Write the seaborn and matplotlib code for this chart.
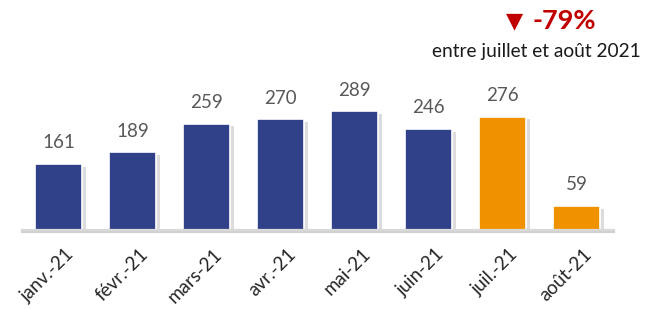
import matplotlib
matplotlib.use("Agg")
import matplotlib.pyplot as plt
import matplotlib.patheffects as pe
import seaborn as sns
import pandas as pd

# Data
months = ["janv.-21", "févr.-21", "mars-21", "avr.-21", "mai-21", "juin-21", "juil.-21", "août-21"]
values = [161, 189, 259, 270, 289, 246, 276, 59]
bar_colors = ["#314189"] * 6 + ["#F09100"] * 2
change_text = "-79%"
change_caption = "entre juillet et août 2021"

sns.set_theme(style="white")
plt.rcParams["font.family"] = ["Lato", "DejaVu Sans"]

df = pd.DataFrame({"month": months, "value": values})

fig = plt.figure(figsize=(6.49, 3.09), dpi=100)
ax = fig.add_axes([21.5 / 649, 79 / 309, 592 / 649, 230 / 309])

sns.barplot(data=df, x="month", y="value", hue="month", palette=bar_colors,
            saturation=1, width=0.64, legend=False, ax=ax,
            edgecolor="white", linewidth=1.2)

shadow = [pe.SimplePatchShadow(offset=(3, -2), shadow_rgbFace="#8c8c8c", alpha=0.3), pe.Normal()]
for p in ax.patches:
    p.set_path_effects(shadow)

ax.set_ylim(0, 560)
ax.set_xlim(-0.5, 7.5)

for i, v in enumerate(values):
    ax.annotate(str(v), (i, v), xytext=(0, 9), textcoords="offset points",
                ha="center", va="bottom", fontsize=13.5, color="#595959")

ax.set_yticks([])
ax.set_xlabel("")
ax.set_ylabel("")
for s in ["top", "right", "left"]:
    ax.spines[s].set_visible(False)
ax.spines["bottom"].set_color("#d9d9d9")
ax.spines["bottom"].set_linewidth(1.6)
ax.spines["bottom"].set_path_effects([pe.SimpleLineShadow(offset=(0, -1.5), alpha=0.2), pe.Normal()])

ax.tick_params(axis="x", length=0, pad=11)
ax.set_xticks(range(len(months)))
ax.set_xticklabels(months, rotation=45, ha="right", rotation_mode="anchor",
                   fontsize=13.5, color="#262626")
for lbl in ax.get_xticklabels():
    lbl.set_transform(lbl.get_transform() + matplotlib.transforms.ScaledTranslation(0.07, 0, fig.dpi_scale_trans))

fig.text(506 / 649, 1 - 21 / 309, "▼", ha="left", va="center",
         fontsize=16, color="#C00000", family=["DejaVu Sans"])
fig.text(533 / 649, 1 - 21 / 309, change_text, ha="left", va="center",
         fontsize=19.5, fontweight="bold", color="#C00000")
fig.text(536 / 649, 1 - 52 / 309, change_caption, ha="center", va="center",
         fontsize=13.8, color="#1a1a1a")

fig.savefig("out.png", dpi=100)
